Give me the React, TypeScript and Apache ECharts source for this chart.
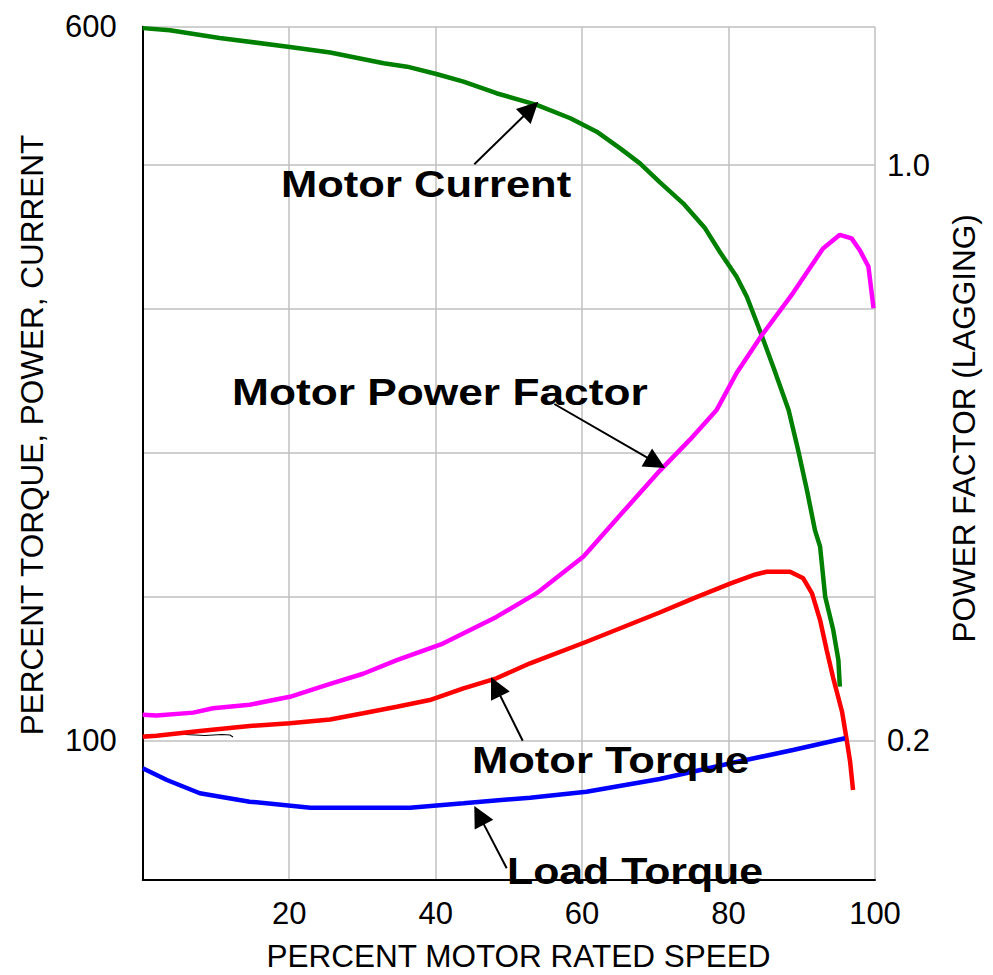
import React, { useEffect, useRef } from 'react';
import * as echarts from 'echarts';

// Motor current (percent, left axis)
const currentSpeed = [0, 3.7, 10.5, 20.1, 25.6, 32.9, 36.1, 40.1, 43.8, 48.3, 53.8, 58.4, 62.0, 65.2, 67.9, 70.6, 73.8, 76.8, 78.8, 81.1, 82.5, 84.3, 86.1, 88.2, 89.5, 90.7, 91.8, 92.5, 93.2, 94.3, 95.0, 95.2];
const currentValues = [599, 597.5, 592.1, 585.8, 581.9, 574.4, 572.0, 566.9, 561.5, 553.4, 545.2, 535.9, 526.5, 514.8, 504.3, 491.2, 476.3, 458.8, 442.4, 424.9, 410.9, 386.9, 361.9, 331.6, 303.6, 275.6, 247.5, 235.9, 200.8, 177.5, 156.5, 137.8];

// Motor power factor (right axis)
const pfSpeed = [0, 1.9, 6.9, 9.6, 14.6, 20.1, 25.6, 30.1, 34.7, 41.0, 48.3, 53.8, 60.2, 65.6, 70.6, 74.7, 78.4, 81.1, 84.3, 88.8, 92.9, 95.2, 96.8, 97.9, 99.1, 99.5, 99.8];
const pfValues = [0.236, 0.235, 0.239, 0.245, 0.250, 0.261, 0.279, 0.293, 0.312, 0.335, 0.372, 0.405, 0.456, 0.518, 0.575, 0.618, 0.660, 0.711, 0.760, 0.822, 0.884, 0.903, 0.898, 0.882, 0.859, 0.826, 0.801];

// Motor torque (percent, left axis)
const torqueSpeed = [0, 1.9, 7.8, 14.6, 20.1, 25.6, 30.1, 34.7, 39.2, 43.8, 48.3, 52.9, 60.6, 70.6, 75.2, 80.3, 83.4, 85.2, 88.4, 90.2, 91.4, 92.5, 93.4, 94.3, 95.5, 96.1, 96.6, 97.0];
const torqueValues = [102.8, 103.5, 106.8, 110.3, 112.2, 114.8, 119.2, 123.8, 128.5, 136.7, 143.7, 154.2, 169.3, 189.8, 199.7, 210.2, 216.0, 218.3, 218.3, 213.7, 203.2, 184.5, 163.5, 143.7, 120.3, 101.7, 85.3, 65.5];

// Load torque (percent, left axis)
const loadSpeed = [0, 3.3, 7.8, 14.6, 22.9, 36.5, 43.8, 52.9, 60.6, 70.6, 80.3, 88.8, 95.9];
const loadValues = [80.7, 72.5, 63.2, 57.3, 53.1, 53.1, 56.2, 60.1, 64.3, 73.2, 84.2, 93.5, 101.7];

const leftTickLabels = [100, 600];
const rightTickLabels = [0.2, 1.0];
const xTickLabels = [20, 40, 60, 80, 100];

const FONT = '"Liberation Sans", Arial, Helvetica, sans-serif';

const zip = (xs: number[], ys: number[]) => xs.map((x, i) => [x, ys[i]]);

function arrow(x1: number, y1: number, x2: number, y2: number, len = 21, half = 10.5): any[] {
  const dx = x2 - x1;
  const dy = y2 - y1;
  const L = Math.hypot(dx, dy);
  const ux = dx / L;
  const uy = dy / L;
  const bx = x2 - ux * len;
  const by = y2 - uy * len;
  return [
    { type: 'line', z: 20, shape: { x1, y1, x2: bx + ux * 2, y2: by + uy * 2 }, style: { stroke: '#000', lineWidth: 2 } },
    {
      type: 'polygon',
      z: 20,
      shape: { points: [[x2, y2], [bx - uy * half, by + ux * half], [bx + uy * half, by - ux * half]] },
      style: { fill: '#000' },
    },
  ];
}

function label(text: string, x: number, y: number, scaleX = 1.21): any {
  return {
    type: 'text',
    z: 20,
    x,
    y,
    scaleX,
    style: {
      text,
      x: 0,
      y: 0,
      fill: '#000',
      fontSize: 36,
      fontWeight: 'bold',
      fontFamily: FONT,
      align: 'left',
      verticalAlign: 'middle',
    },
  };
}

function axisName(text: string, x: number, y: number, rotation: number): any {
  return {
    type: 'text',
    z: 20,
    x,
    y,
    rotation,
    style: {
      text,
      x: 0,
      y: 0,
      fill: '#000',
      fontSize: 31.5,
      fontFamily: FONT,
      align: 'center',
      verticalAlign: 'middle',
    },
  };
}

export default function App() {
  const ref = useRef<HTMLDivElement>(null);

  useEffect(() => {
    if (!ref.current) return;
    const chart = echarts.init(ref.current, undefined, { renderer: 'svg' });

    const graphics: any[] = [
      {
        type: 'polyline',
        z: 1,
        shape: { points: [[145, 735], [175, 734], [205, 735.5], [222, 734.5], [230, 735], [233, 737]] },
        style: { stroke: '#000', lineWidth: 1.2, fill: null },
      },
      ...arrow(474.3, 164.3, 538.3, 101.7),
      ...arrow(554.3, 404, 665, 468),
      ...arrow(522.7, 740.7, 491, 677.3),
      ...arrow(506.7, 868.3, 474.3, 806),
      label('Motor Current', 281, 184.5),
      label('Motor Power Factor', 232, 392.5, 1.23),
      label('Motor Torque', 472, 760.8),
      label('Load Torque', 507, 870.8, 1.19),
      axisName('PERCENT MOTOR RATED SPEED', 518.5, 956, 0),
      axisName('PERCENT TORQUE, POWER, CURRENT', 32.4, 435, Math.PI / 2),
      axisName('POWER FACTOR (LAGGING)', 964.1, 428.3, Math.PI / 2),
    ];

    const lineSeries = (name: string, data: number[][], color: string, yAxisIndex = 0) => ({
      name,
      type: 'line',
      yAxisIndex,
      data,
      showSymbol: false,
      symbol: 'none',
      smooth: false,
      z: 5,
      lineStyle: { color, width: 4.5 },
      itemStyle: { color },
    });

    chart.setOption({
      animation: false,
      backgroundColor: '#fff',
      textStyle: { fontFamily: FONT },
      grid: { left: 142.7, right: 118, top: 26.7, bottom: 95.7, containLabel: false },
      xAxis: {
        type: 'value',
        min: 0,
        max: 100,
        interval: 20,
        z: 1,
        axisLine: { show: true, lineStyle: { color: '#000', width: 2 } },
        axisTick: { show: false },
        axisLabel: {
          show: true,
          color: '#000',
          fontSize: 31,
          fontFamily: FONT,
          margin: 19,
          formatter: (v: number) => (xTickLabels.includes(v) ? String(v) : ''),
        },
        splitLine: { show: true, lineStyle: { color: '#c0c0c0', width: 1.5 } },
      },
      yAxis: [
        {
          type: 'value',
          min: 2.94,
          max: 600,
          position: 'left',
          z: 2,
          axisLine: { show: true, lineStyle: { color: '#000', width: 2 } },
          axisTick: { show: false },
          axisLabel: {
            show: true,
            color: '#000',
            fontSize: 31,
            fontFamily: FONT,
            margin: 26,
            formatter: (v: number) => (leftTickLabels.includes(Math.round(v)) && Math.abs(v - Math.round(v)) < 1e-6 ? String(Math.round(v)) : ''),
          },
          splitLine: { show: false },
        },
        {
          type: 'value',
          min: 0.00737,
          max: 1.1922,
          position: 'right',
          z: 0,
          axisLine: { show: false },
          axisTick: { show: false },
          axisLabel: {
            show: true,
            color: '#000',
            fontSize: 31,
            fontFamily: FONT,
            margin: 12,
            formatter: (v: number) => {
              const hit = rightTickLabels.find((t) => Math.abs(t - v) < 1e-6);
              return hit !== undefined ? hit.toFixed(1) : '';
            },
          },
          splitLine: { show: true, lineStyle: { color: '#c0c0c0', width: 1.5 } },
        },
      ],
      series: [
        lineSeries('Motor Current', zip(currentSpeed, currentValues), '#008000', 0),
        lineSeries('Motor Power Factor', zip(pfSpeed, pfValues), '#ff00ff', 1),
        lineSeries('Motor Torque', zip(torqueSpeed, torqueValues), '#ff0000', 0),
        lineSeries('Load Torque', zip(loadSpeed, loadValues), '#0000ff', 0),
      ],
      graphic: graphics,
    });

    return () => chart.dispose();
  }, []);

  return <div ref={ref} style={{ position: 'fixed', left: 0, top: 0, width: 993, height: 975 }} />;
}
